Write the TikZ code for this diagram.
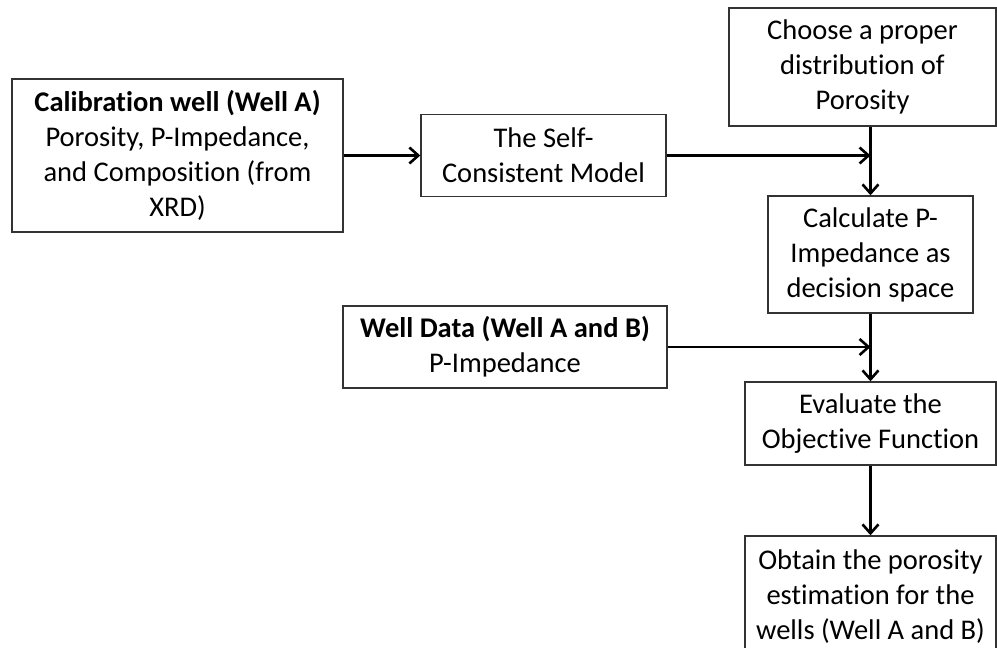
\documentclass[tikz,border=0pt]{standalone}
\usepackage{fontspec}
\setmainfont{Carlito}[Ligatures=NoCommon]
\usetikzlibrary{arrows.meta}

\begin{document}
\begin{tikzpicture}[x=1pt, y=-1pt,
    box/.style={draw=black!80, line width=1.4pt, align=center, inner sep=0pt,
        font=\fontsize{28.5}{35}\selectfont},
    flow/.style={-{Straight Barb[length=9pt,width=16pt]}, line width=2.6pt}]
    \useasboundingbox (0,0) rectangle (997,648);

    % Calibration well
    \node[box, minimum width=331, minimum height=153] (calib) at (177.5,155.5)
        {\textbf{Calibration well (Well A)}\\Porosity, P-Impedance,\\and Composition (from\\XRD)};

    % Self-consistent model
    \node[box, minimum width=245, minimum height=82] (model) at (543.5,155.5)
        {The Self-\\Consistent Model};

    % Porosity distribution
    \node[box, minimum width=267, minimum height=118] (choose) at (862.5,67)
        {Choose a proper\\distribution of\\Porosity};

    % Decision space
    \node[box, minimum width=205, minimum height=117] (calc) at (870.5,254.5)
        {Calculate P-\\Impedance as\\decision space};

    % Well data
    \node[box, minimum width=324, minimum height=82] (wdata) at (505,347)
        {\textbf{Well Data (Well A and B)}\\P-Impedance};

    % Objective function
    \node[box, minimum width=251, minimum height=83] (eval) at (870.5,423.5)
        {Evaluate the\\Objective Function};

    % Result
    \node[box, minimum width=251, minimum height=122] (obtain) at (870.5,597)
        {Obtain the porosity\\estimation for the\\wells (Well A and B)};

    % Arrows
    \draw[flow] (calib.east) -- (model.west);
    \draw[flow] (model.east) -- (model.east -| calc.north);
    \draw[flow] (calc.north |- choose.south) -- (calc.north);
    \draw[flow] (wdata.east) -- (wdata.east -| calc.south);
    \draw[flow] (calc.south) -- (eval.north);
    \draw[flow] (eval.south) -- (obtain.north);

\end{tikzpicture}
\end{document}
